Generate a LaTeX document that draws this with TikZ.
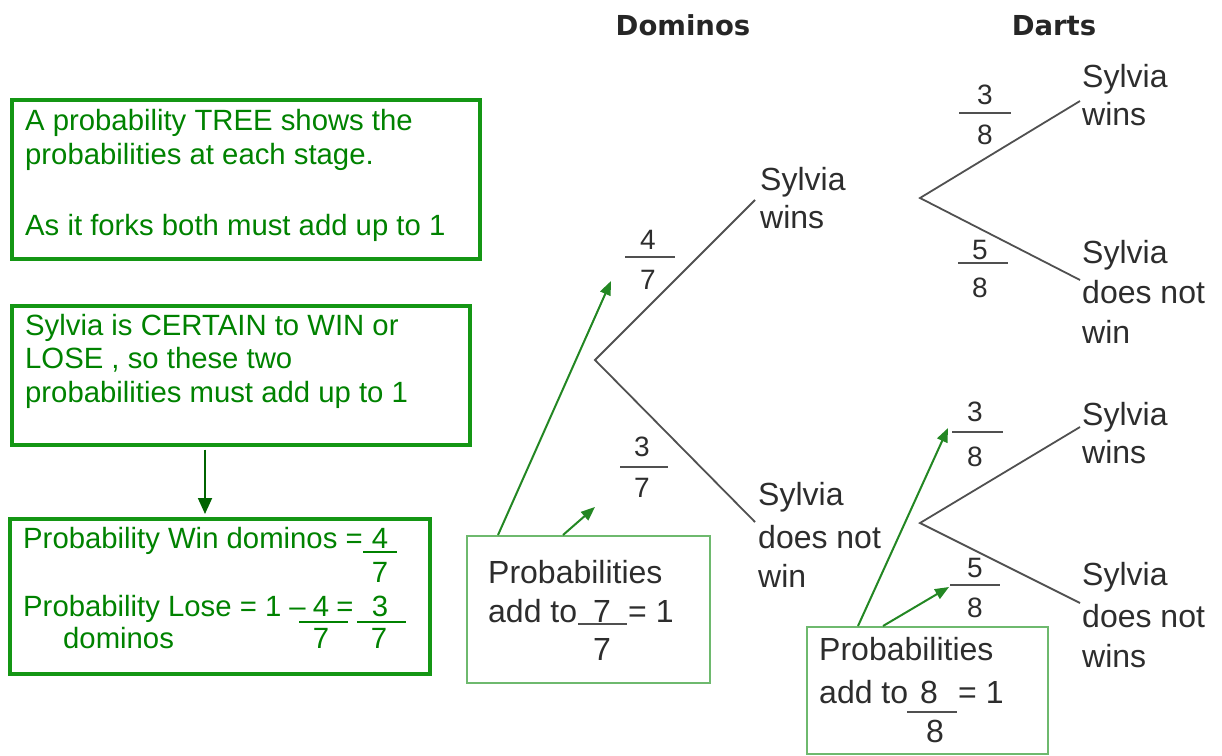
\documentclass[tikz,border=0pt]{standalone}
\usepackage{fontspec}
\setmainfont{Liberation Sans}
\newfontfamily\headfont{DejaVu Sans}
\usetikzlibrary{arrows.meta,calc}
\definecolor{gtext}{RGB}{0,130,0}
\definecolor{gborder}{RGB}{20,150,20}
\definecolor{lborder}{RGB}{110,185,110}
\definecolor{garrow}{RGB}{35,135,35}
\definecolor{darrow}{RGB}{0,100,0}
\definecolor{tgray}{RGB}{45,45,45}
\definecolor{lgray}{RGB}{80,80,80}
\begin{document}
\begin{tikzpicture}[x=1pt,y=-1pt,
  gbox/.style={draw=gborder,line width=3.5pt,anchor=north west,inner sep=0},
  lbox/.style={draw=lborder,line width=2pt,anchor=north west,inner sep=0},
  gt/.style={anchor=base west,inner sep=0,text=gtext,font=\fontsize{29.3}{34}\selectfont},
  gd/.style={anchor=base,inner sep=0,text=gtext,font=\fontsize{29.3}{34}\selectfont},
  tt/.style={anchor=base west,inner sep=0,text=tgray,font=\fontsize{32}{38}\selectfont},
  td/.style={anchor=base,inner sep=0,text=tgray,font=\fontsize{32}{38}\selectfont},
  fd/.style={anchor=center,inner sep=0,text=tgray,font=\fontsize{28}{30}\selectfont},
  branch/.style={draw=lgray,line width=1.8pt},
  fbar/.style={draw=lgray,line width=1.5pt},
  gbar/.style={draw=gtext,line width=1.5pt},
  garr/.style={draw=garrow,line width=2pt,-{Triangle[length=14pt,width=11pt]}},
  varr/.style={draw=darrow,line width=1.8pt,-{Triangle[length=16pt,width=14pt]}},
  hd/.style={anchor=base,inner sep=0,font=\headfont\bfseries\fontsize{27.5}{30}\selectfont,text=black!85}
]
\useasboundingbox (0,0) rectangle (1222,755);

% headers
\node[hd] (hdom) at (683,35) {Dominos};
\node[hd] (hdart) at (1054,35) {Darts};

% left boxes
\node[gbox,minimum width=468,minimum height=159] (box1) at (10,98) {};
\node[gt] (b1l1) at (25,130) {A probability TREE shows the};
\node[gt] (b1l2) at (25,164) {probabilities at each stage.};
\node[gt] (b1l3) at (25,235) {As it forks both must add up to 1};

\node[gbox,minimum width=458,minimum height=139] (box2) at (10,304) {};
\node[gt] (b2l1) at (25,335) {Sylvia is CERTAIN to WIN or};
\node[gt] (b2l2) at (25,368) {LOSE , so these two};
\node[gt] (b2l3) at (25,402) {probabilities must add up to 1};

\node[gbox,minimum width=420,minimum height=155] (box3) at (8,517) {};
\draw[varr] ($(box2.south west)+(195,3)$) -- ($(box3.north west)+(197,-3)$);
\node[gt] (b3l1) at (23,548) {Probability Win dominos =};
\node[gd] (b3n1) at (380,548) {4};
\draw[gbar] (363,552) -- (397,552);
\node[gd] (b3d1) at (380,582) {7};
\node[gt] (b3l2) at (23,616) {Probability Lose = 1 –};
\node[gd] (b3n2) at (321,616) {4};
\node[gd] (b3eq) at (345,616) {=};
\node[gd] (b3n3) at (380,616) {3};
\draw[gbar] (299,622) -- (348,622);
\draw[gbar] (357,622) -- (406,622);
\node[gt] (b3l3) at (63,648) {dominos};
\node[gd] (b3d2) at (321,648) {7};
\node[gd] (b3d3) at (379,648) {7};

% tree coordinates
\coordinate (r0) at (595,360);
\coordinate (e1) at (755,200);
\coordinate (e2) at (755,522);
\coordinate (r1) at (920,198);
\coordinate (e11) at (1080,101);
\coordinate (e12) at (1080,280);
\coordinate (r2) at (920,523);
\coordinate (e21) at (1080,427);
\coordinate (e22) at (1080,603);
\draw[branch] (e1) -- (r0) -- (e2);
\draw[branch] (e11) -- (r1) -- (e12);
\draw[branch] (e21) -- (r2) -- (e22);

% tree labels
\node[tt] (l1a) at (760,190) {Sylvia};
\node[tt] (l1b) at (760,228) {wins};
\node[tt] (l2a) at (758,505) {Sylvia};
\node[tt] (l2b) at (758,548) {does not};
\node[tt] (l2c) at (758,587) {win};
\node[tt] (l11a) at (1082,87) {Sylvia};
\node[tt] (l11b) at (1082,125) {wins};
\node[tt] (l12a) at (1082,263) {Sylvia};
\node[tt] (l12b) at (1082,303) {does not};
\node[tt] (l12c) at (1082,343) {win};
\node[tt] (l21a) at (1082,425) {Sylvia};
\node[tt] (l21b) at (1082,463) {wins};
\node[tt] (l22a) at (1082,585) {Sylvia};
\node[tt] (l22b) at (1082,627) {does not};
\node[tt] (l22c) at (1082,667) {wins};

% fractions
\node[fd] (f1n) at (648,240) {4};
\draw[fbar] (625,257) -- (675,257);
\node[fd] (f1d) at (648,280) {7};
\node[fd] (f2n) at (642,447) {3};
\draw[fbar] (620,467) -- (668,467);
\node[fd] (f2d) at (642,488) {7};
\node[fd] (f3n) at (985,95) {3};
\draw[fbar] (959,113) -- (1011,113);
\node[fd] (f3d) at (985,135) {8};
\node[fd] (f4n) at (980,250) {5};
\draw[fbar] (958,263) -- (1008,263);
\node[fd] (f4d) at (980,288) {8};
\node[fd] (f5n) at (975,412) {3};
\draw[fbar] (952,432) -- (1003,432);
\node[fd] (f5d) at (975,457) {8};
\node[fd] (f6n) at (975,568) {5};
\draw[fbar] (950,585) -- (1000,585);
\node[fd] (f6d) at (975,608) {8};

% box A
\node[lbox,minimum width=243,minimum height=147] (boxA) at (466,535) {};
\node[tt] (aL1) at (488,583) {Probabilities};
\node[tt] (aL2) at (488,622) {add to};
\node[td] (aN) at (602,622) {7};
\draw[fbar] (578,624) -- (627,624);
\node[tt] (aEq) at (628,622) {= 1};
\node[td] (aD) at (602,660) {7};
\draw[garr] ($(boxA.north west)+(32,0)$) -- (611,281);
\draw[garr] ($(boxA.north west)+(97,0)$) -- (595,507);

% box B
\node[lbox,minimum width=241,minimum height=127] (boxB) at (806,626) {};
\node[tt] (bL1) at (819,660) {Probabilities};
\node[tt] (bL2) at (819,703) {add to};
\node[td] (bN) at (929,703) {8};
\draw[fbar] (907,712) -- (957,712);
\node[tt] (bEq) at (958,703) {= 1};
\node[td] (bD) at (935,742) {8};
\draw[garr] ($(boxB.north west)+(52,0)$) -- (948,428);
\draw[garr] ($(boxB.north west)+(77,0)$) -- (949,587);
\end{tikzpicture}
\end{document}
